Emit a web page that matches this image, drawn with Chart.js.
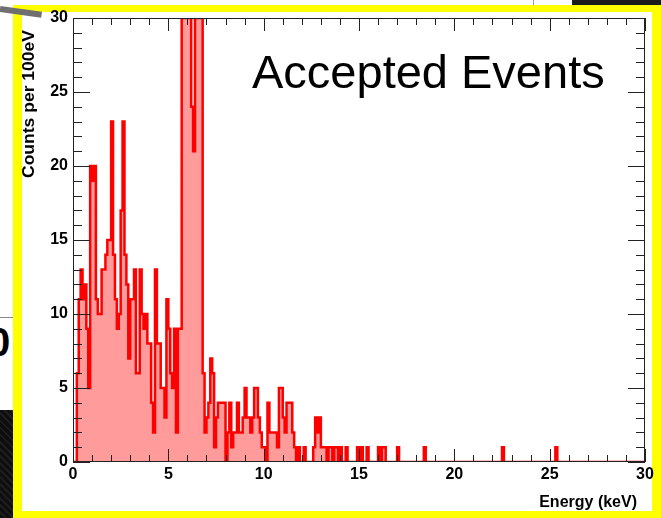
<!DOCTYPE html>
<html>
<head>
<meta charset="utf-8">
<script src="https://cdn.jsdelivr.net/npm/chart.js@4.4.1/dist/chart.umd.min.js"></script>
<style>
  html, body { margin: 0; padding: 0; }
  body {
    width: 661px; height: 518px; position: relative; overflow: hidden;
    background: #fff; font-family: 'Liberation Sans', Arial, sans-serif;
  }
  #frame {
    position: absolute; left: 13px; top: 5px; width: 630px; height: 499px;
    border-style: solid; border-color: #ffff00; border-width: 7px 9px 7px 9px;
    background: #fff;
  }
  .slash { position: absolute; left: 0; top: 6px; width: 42px; height: 6px; background: #6f6f6f; transform: rotate(8deg); transform-origin: 0 50%; }
  .tex-top { position: absolute; left: 572px; top: 0; width: 89px; height: 5px; background: #1c1c1c; }
  .rule-top { position: absolute; left: 533px; top: 0; width: 1px; height: 5px; background: #999; }
  .rule-left { position: absolute; left: 0; top: 317px; width: 13px; height: 1px; background: #888; }
  .glyph { position: absolute; left: -12px; top: 322px; font: bold 40px 'Liberation Sans', Arial, sans-serif; line-height: 1; color: #000; }
  .tex-left {
    position: absolute; left: 0; top: 410px; width: 13px; height: 108px;
    background: repeating-linear-gradient(45deg, #0e0e0e 0 3px, #1d1d1d 3px 5px);
  }
  #hist { position: absolute; left: 0; top: 0; z-index: 2; }
</style>
</head>
<body>
<div id="frame"></div>
<div class="slash"></div>
<div class="tex-top"></div>
<div class="rule-top"></div>
<div class="rule-left"></div>
<div class="glyph">0</div>
<div class="tex-left"></div>
<canvas id="hist" width="661" height="518"></canvas>

<script>
// Energy spectrum, 100 eV bins from 0 to 30 keV (300 bins)
const BIN_WIDTH = 0.1;
const X_MIN = 0, X_MAX = 30;
const Y_MIN = 0, Y_MAX = 30;

const counts = [
  0, 0, 6, 11, 13, 11, 12, 9, 5, 20,
  19, 20, 11, 10, 10, 13, 13, 14, 15, 15,
  23, 14, 11, 9, 10, 17, 23, 14, 12, 7,
  11, 11, 13, 6, 6, 13, 10, 9, 10, 8,
  8, 4, 2, 13, 8, 8, 5, 5, 3, 11,
  9, 6, 5, 9, 2, 9, 9, 36, 44, 52,
  47, 39, 24, 21, 41, 49, 45, 34, 6, 2,
  3, 4, 7, 6, 1, 3, 4, 4, 4, 4,
  0, 2, 4, 1, 2, 2, 4, 2, 2, 3,
  5, 3, 3, 2, 3, 5, 5, 3, 2, 1,
  1, 0, 4, 2, 2, 2, 2, 1, 5, 5,
  3, 2, 4, 4, 4, 2, 1, 0, 1, 0,
  0, 1, 0, 0, 0, 0, 1, 3, 2, 3,
  1, 1, 1, 0, 1, 1, 0, 1, 1, 0,
  1, 0, 0, 1, 0, 0, 0, 0, 0, 1,
  0, 1, 0, 0, 1, 0, 0, 0, 0, 0,
  1, 0, 1, 1, 0, 0, 0, 0, 0, 0,
  1, 0, 0, 0, 0, 0, 0, 0, 0, 0,
  0, 0, 0, 0, 1, 0, 0, 0, 0, 0,
  0, 0, 0, 0, 0, 0, 0, 0, 0, 0,
  0, 0, 0, 0, 0, 0, 0, 0, 0, 0,
  0, 0, 0, 0, 0, 0, 0, 0, 0, 0,
  0, 0, 0, 0, 0, 1, 0, 0, 0, 0,
  0, 0, 0, 0, 0, 0, 0, 0, 0, 0,
  0, 0, 0, 0, 0, 0, 0, 0, 0, 0,
  0, 0, 0, 1, 0, 0, 0, 0, 0, 0,
  0, 0, 0, 0, 0, 0, 0, 0, 0, 0,
  0, 0, 0, 0, 0, 0, 0, 0, 0, 0,
  0, 0, 0, 0, 0, 0, 0, 0, 0, 0,
  0, 0, 0, 0, 0, 0, 0, 0, 0, 0
];

const xTitle = 'Energy (keV)';
const yTitle = 'Counts per 100eV';
const headline = 'Accepted Events';

const FONT = "'Liberation Sans', Arial, sans-serif";

// left bin edges; values over the axis range are drawn flat along the top frame
const points = counts.map((c, i) => ({ x: i * BIN_WIDTH, y: Math.min(c, Y_MAX) }));
points.push({ x: X_MAX, y: 0 });

// frame with inward ticks on all four sides, plus titles
const frameAndTicks = {
  id: 'frameAndTicks',
  afterDatasetsDraw(chart) {
    const { ctx, chartArea: a, scales: { x, y } } = chart;
    ctx.save();
    ctx.strokeStyle = '#222';
    ctx.lineWidth = 1;
    ctx.beginPath();
    for (let v = X_MIN; v <= X_MAX; v++) {
      const px = Math.round(x.getPixelForValue(v)) + 0.5;
      const len = v % 5 === 0 ? 13 : 7;
      ctx.moveTo(px, a.bottom); ctx.lineTo(px, a.bottom - len);
      ctx.moveTo(px, a.top); ctx.lineTo(px, a.top + len);
    }
    for (let v = Y_MIN; v <= Y_MAX; v++) {
      const py = Math.round(y.getPixelForValue(v)) + 0.5;
      const len = v % 5 === 0 ? 17 : 9;
      ctx.moveTo(a.left, py); ctx.lineTo(a.left + len, py);
      ctx.moveTo(a.right, py); ctx.lineTo(a.right - len, py);
    }
    ctx.stroke();
    ctx.strokeRect(a.left + 0.5, a.top + 0.5, a.width - 1, a.height - 1);
    ctx.restore();
  },
  afterDraw(chart) {
    const { ctx, chartArea: a } = chart;
    ctx.save();
    ctx.fillStyle = '#000';
    ctx.textBaseline = 'alphabetic';

    ctx.font = 'bold 16px ' + FONT;
    ctx.textAlign = 'right';
    ctx.fillText(xTitle, a.right - 8, a.bottom + 45);

    // vertical title is a little wider than the plain font, as ROOT draws it
    ctx.save();
    ctx.translate(a.left - 39.5, a.top + 12);
    ctx.rotate(-Math.PI / 2);
    ctx.scale(148 / ctx.measureText(yTitle).width, 1);
    ctx.fillText(yTitle, 0, 0);
    ctx.restore();

    ctx.font = '47px ' + FONT;
    ctx.textAlign = 'left';
    ctx.fillText(headline, a.left + 179, a.top + 70);
    ctx.restore();
  }
};

const tickFont = { family: FONT, size: 16, weight: 'bold' };

new Chart(document.getElementById('hist'), {
  type: 'line',
  data: {
    datasets: [{
      data: points,
      stepped: 'before',
      fill: 'origin',
      borderColor: '#ff0000',
      backgroundColor: '#ff9b9b',
      borderWidth: 2.5,
      pointRadius: 0,
      tension: 0
    }]
  },
  options: {
    responsive: false,
    animation: false,
    layout: { padding: { top: 18, right: 16, left: 0, bottom: 0 } },
    plugins: { legend: { display: false }, tooltip: { enabled: false } },
    scales: {
      x: {
        type: 'linear', min: X_MIN, max: X_MAX,
        grid: { display: false, drawTicks: false },
        border: { display: false },
        ticks: { stepSize: 5, autoSkip: false, maxRotation: 0, color: '#000', font: tickFont, padding: 3 },
        afterFit: s => { s.height = 56; }
      },
      y: {
        min: Y_MIN, max: Y_MAX,
        grid: { display: false, drawTicks: false },
        border: { display: false },
        ticks: { stepSize: 5, color: '#000', font: tickFont, padding: 5 },
        afterFit: s => { s.width = 73; }
      }
    }
  },
  plugins: [frameAndTicks]
});
</script>
</body>
</html>
